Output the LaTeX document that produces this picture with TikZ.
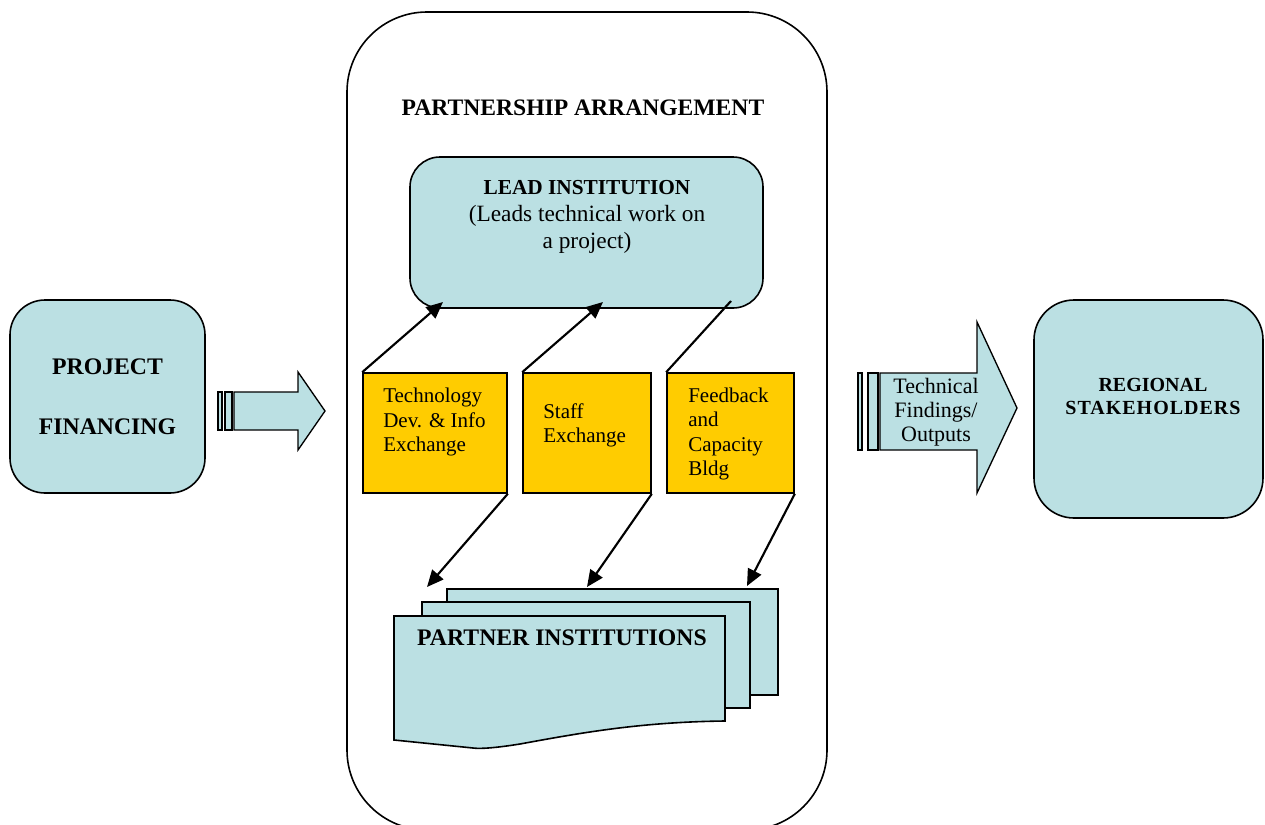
\documentclass[tikz,border=0pt]{standalone}
\usepackage{fontspec}
\setmainfont{Liberation Serif}
\usetikzlibrary{arrows.meta}
\definecolor{lb}{HTML}{BBE0E3}
\definecolor{yel}{HTML}{FFCC00}
\begin{document}
\begin{tikzpicture}[x=0.75pt,y=-0.75pt,
  bluebox/.style={draw=black, fill=lb, line width=1.2pt, inner sep=0pt},
  ybox/.style={draw=black, fill=yel, line width=1.2pt, inner sep=0pt, minimum height=90pt},
  ytext/.style={anchor=west, align=left, inner sep=0pt, font=\fontsize{15.75}{18.4}\selectfont},
  pagebox/.style={draw=black, fill=lb, line width=1.2pt, inner sep=0pt, minimum height=79.5pt},
  bigarrow/.style={draw=black, fill=lb, line width=1pt, line join=miter},
  conn/.style={line width=1.6pt},
  arr/.style={conn, -{Triangle[length=12.5pt,width=11pt]}}]
\useasboundingbox (0,0) rectangle (1265,825);

% container
\node[draw=black, line width=1.2pt, rounded corners=60pt, minimum width=360pt, minimum height=613.5pt, inner sep=0pt] (frame) at (587,421) {};
\node[font=\bfseries\fontsize{17.7}{20}\selectfont, inner sep=0pt] (title) at (583,108) {PARTNERSHIP ARRANGEMENT};

% lead institution
\node[bluebox, rounded corners=22.5pt, minimum width=264.75pt, minimum height=113.25pt] (lead) at (586.5,232.5) {};
\node[align=center, inner sep=0pt, font=\fontsize{17.5}{20.25}\selectfont] (leadtext) at (587,217)
  {{\bfseries\fontsize{16}{20.25}\selectfont LEAD INSTITUTION}\\(Leads technical work on\\a project)};

% yellow boxes
\node[ybox, minimum width=108pt] (b1) at (435,433) {};
\node[ybox, minimum width=96pt] (b2) at (587,433) {};
\node[ybox, minimum width=95.25pt] (b3) at (730.5,433) {};
\node[ytext] (t1) at (383,422) {Technology\\Dev. \& Info\\Exchange};
\node[ytext] (t2) at (543,425.5) {Staff\\Exchange};
\node[ytext] (t3) at (688,434) {Feedback\\and\\Capacity\\Bldg};

% partner institutions (stacked pages)
\node[pagebox, minimum width=248.25pt] (p3) at (612.5,642) {};
\node[pagebox, minimum width=246pt] (p2) at (586,655) {};
\draw[draw=black, fill=lb, line width=1.2pt] (394,616) -- (725,616) -- (725,721)
  .. controls (640,722) and (580,733) .. (520,744)
  .. controls (495,748) and (480,749) .. (473,748) -- (394,740) -- cycle;
\node[font=\bfseries\fontsize{17.8}{20}\selectfont, inner sep=0pt] (partner) at (562,638) {PARTNER INSTITUTIONS};

% connectors
\coordinate (l1) at (443,302);
\coordinate (l2) at (603,302);
\coordinate (l3) at (731,301);
\coordinate (d1) at (427,587);
\coordinate (d2) at (587,587);
\coordinate (d3) at (747,586);
\draw[arr] (b1.north west) -- (l1);
\draw[arr] (b2.north west) -- (l2);
\draw[conn] (b3.north west) -- (l3);
\draw[arr] (b1.south east) -- (d1);
\draw[arr] (b2.south east) -- (d2);
\draw[arr] (b3.south east) -- (d3);

% project financing
\node[bluebox, rounded corners=26.25pt, minimum width=146.25pt, minimum height=144.75pt, align=center,
  font=\bfseries\fontsize{17.8}{45}\selectfont] (fin) at (107.5,396.5) {PROJECT\\FINANCING};

% regional stakeholders
\node[bluebox, rounded corners=30pt, minimum width=171.75pt, minimum height=163.5pt] (reg) at (1148.5,409) {};
\node[align=center, inner sep=0pt, font=\bfseries\fontsize{15}{17.25}\selectfont] (regtext) at (1153,396.5)
  {REGIONAL\\{\addfontfeature{LetterSpace=5}STAKEHOLDERS}};

% left striped arrow
\draw[bigarrow] (218,392) rectangle (222,430);
\draw[bigarrow] (225,392) rectangle (232,430);
\draw[bigarrow] (234,392) -- (298,392) -- (298,372) -- (325,411) -- (298,450) -- (298,430) -- (234,430) -- cycle;

% right striped arrow
\draw[bigarrow] (858,373) rectangle (862,450);
\draw[bigarrow] (868,373) rectangle (878,450);
\draw[bigarrow] (880,373) -- (977,373) -- (977,322) -- (1017,408) -- (977,493) -- (977,450) -- (880,450) -- cycle;
\node[align=center, inner sep=0pt, font=\fontsize{16.5}{18}\selectfont] (tf) at (936,412) {Technical\\Findings/\\Outputs};
\end{tikzpicture}
\end{document}
